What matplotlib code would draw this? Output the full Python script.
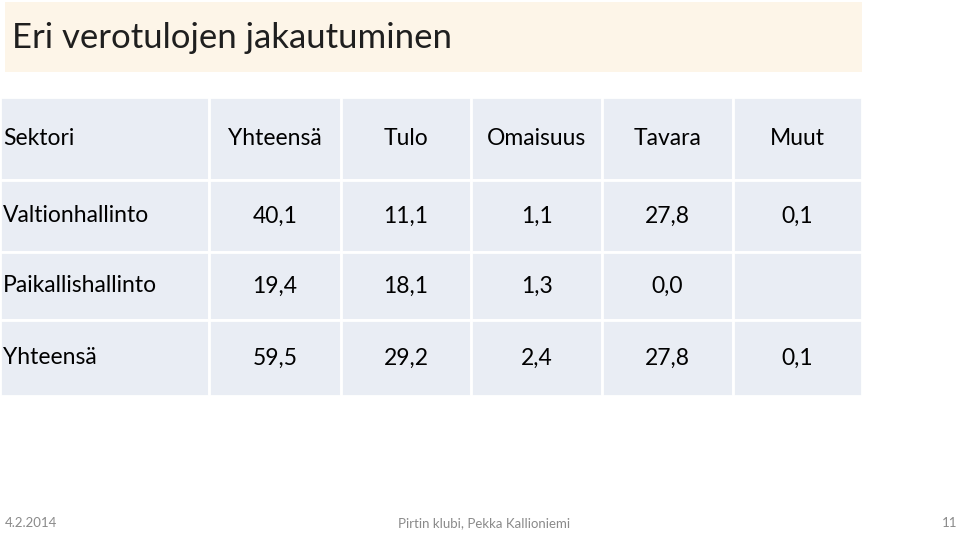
import matplotlib
matplotlib.use('Agg')
import matplotlib.pyplot as plt
from matplotlib.patches import Rectangle

title = 'Eri verotulojen jakautuminen'
columns = ['Sektori', 'Yhteensä', 'Tulo', 'Omaisuus', 'Tavara', 'Muut']
sectors = ['Valtionhallinto', 'Paikallishallinto', 'Yhteensä']
yhteensa = [40.1, 19.4, 59.5]
tulo = [11.1, 18.1, 29.2]
omaisuus = [1.1, 1.3, 2.4]
tavara = [27.8, 0.0, 27.8]
muut = [0.1, None, 0.1]
footer_date = '4.2.2014'
footer_text = 'Pirtin klubi, Pekka Kallioniemi'
page_no = '11'

W, H = 960, 533
fig = plt.figure(figsize=(9.6, 5.33), dpi=100)
ax = fig.add_axes([0, 0, 1, 1])
ax.set_xlim(0, W)
ax.set_ylim(H, 0)
ax.axis('off')
plt.rcParams['font.family'] = ['Lato', 'DejaVu Sans']

# title band
ax.add_patch(Rectangle((5, 2), 857, 70, color='#fdf5e8', lw=0))
ax.text(12, 38, title, fontsize=25, va='center', color='#1f1f1f')

# table
col_x = [0, 209, 341, 471, 602, 733, 862]
row_y = [97, 180, 252, 320, 396]
for i in range(len(col_x) - 1):
    for j in range(len(row_y) - 1):
        ax.add_patch(Rectangle((col_x[i], row_y[j]), col_x[i + 1] - col_x[i],
                               row_y[j + 1] - row_y[j], facecolor='#e9edf4',
                               edgecolor='white', lw=2))

fs = 16.5
for i, c in enumerate(columns):
    yc = (row_y[0] + row_y[1]) / 2
    if i == 0:
        ax.text(3, yc, c, fontsize=fs, va='center', ha='left')
    else:
        ax.text((col_x[i] + col_x[i + 1]) / 2, yc, c, fontsize=fs, va='center', ha='center')

def fmt(v):
    return '' if v is None else f'{v:.1f}'.replace('.', ',')

for j, name in enumerate(sectors):
    yc = (row_y[j + 1] + row_y[j + 2]) / 2
    ax.text(3, yc, name, fontsize=fs, va='center', ha='left')
    vals = [yhteensa[j], tulo[j], omaisuus[j], tavara[j], muut[j]]
    for i, v in enumerate(vals):
        ax.text((col_x[i + 1] + col_x[i + 2]) / 2, yc, fmt(v), fontsize=fs,
                va='center', ha='center')

# footer
ax.text(5, 523, footer_date, fontsize=9.5, color='#8a8a8a', va='center', ha='left')
ax.text(484, 523, footer_text, fontsize=9.5, color='#8a8a8a', va='center', ha='center')
ax.text(957, 523, page_no, fontsize=9.5, color='#8a8a8a', va='center', ha='right')

fig.savefig('out.png', dpi=100)
